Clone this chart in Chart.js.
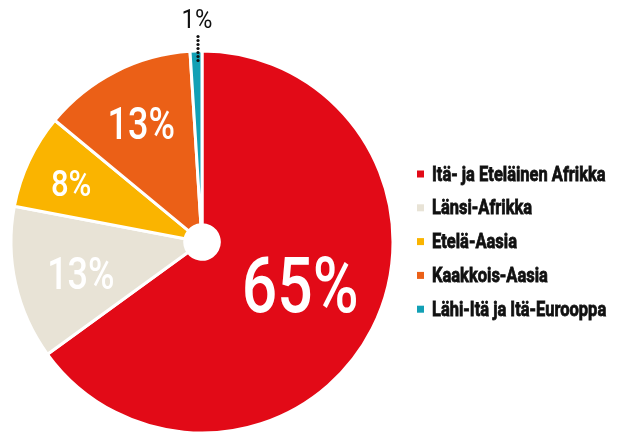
<!DOCTYPE html>
<html>
<head>
<meta charset="utf-8">
<script src="https://cdn.jsdelivr.net/npm/chart.js@4.4.1/dist/chart.umd.min.js"></script>
<style>
  html, body { margin: 0; padding: 0; background: #fff; }
  #wrap { width: 630px; height: 433px; }
</style>
</head>
<body>
<div id="wrap"><canvas id="chart" width="630" height="433"></canvas></div>
<script>
'use strict';

const regions = ['Itä- ja Eteläinen Afrikka', 'Länsi-Afrikka', 'Etelä-Aasia', 'Kaakkois-Aasia', 'Lähi-Itä ja Itä-Eurooppa'];
const shares = [65, 13, 8, 13, 1];
const shareLabels = ['65%', '13%', '8%', '13%', '1%'];
const sliceColors = ['#e20a17', '#e8e3d6', '#fab400', '#eb6017', '#12a0b5'];

// how each slice label sits (fraction of radius, nudges, font size)
const labelStyle = [
    { r: 0.56, dx: 3, dy: -6, size: 78, squeeze: 0.8, color: '#fff' },
    { r: 0.65, dx: 0, dy: 4, size: 45, squeeze: 0.8, color: '#fff' },
    { r: 0.757, dx: 0, dy: 2, size: 37, squeeze: 0.84, color: '#fff' },
    { r: 0.70, dx: 0, dy: 0, size: 45, squeeze: 0.8, color: '#fff' },
    { r: 1.17, dx: 2, dy: 0, size: 25, squeeze: 0.95, color: '#111', leader: true },
];

function drawSqueezed(ctx, text, x, y, squeeze, stroke) {
    ctx.save();
    ctx.translate(x, y);
    ctx.scale(squeeze, 1);
    ctx.fillText(text, 0, 0);
    if (stroke) {
        ctx.lineWidth = stroke;
        ctx.strokeStyle = ctx.fillStyle;
        ctx.strokeText(text, 0, 0);
    }
    ctx.restore();
}

const sliceLabels = {
    id: 'sliceLabels',
    afterDatasetsDraw(chart) {
        const ctx = chart.ctx;
        const meta = chart.getDatasetMeta(0);
        meta.data.forEach(function (arc, i) {
            const p = arc.getProps(['x', 'y', 'startAngle', 'endAngle', 'outerRadius']);
            const mid = (p.startAngle + p.endAngle) / 2;
            const st = labelStyle[i];
            const lx = p.x + Math.cos(mid) * p.outerRadius * st.r + st.dx;
            const ly = p.y + Math.sin(mid) * p.outerRadius * st.r + st.dy;
            ctx.save();
            ctx.fillStyle = st.color;
            ctx.font = (st.leader ? '400 ' : '500 ') + st.size + 'px Roboto';
            ctx.textAlign = 'center';
            ctx.textBaseline = 'alphabetic';
            drawSqueezed(ctx, shareLabels[i], lx, ly + st.size * 0.355, st.squeeze, 0);
            if (st.leader) {
                // dotted leader from the label down into the thin slice
                const x0 = p.x + Math.cos(mid) * p.outerRadius + st.dx;
                const yTop = ly + st.size * 0.355 + 9;
                const yEnd = p.y + Math.sin(mid) * p.outerRadius * 0.93;
                ctx.fillStyle = '#111';
                for (let y = yTop; y <= yEnd; y += 4) {
                    ctx.beginPath();
                    ctx.arc(x0, y, 1.6, 0, Math.PI * 2);
                    ctx.fill();
                }
            }
            ctx.restore();
        });
    }
};

const sideLegend = {
    id: 'sideLegend',
    afterDraw(chart) {
        const ctx = chart.ctx;
        const colors = chart.data.datasets[0].backgroundColor;
        ctx.save();
        ctx.font = '700 21px Roboto';
        ctx.textAlign = 'left';
        ctx.textBaseline = 'alphabetic';
        chart.data.labels.forEach(function (label, i) {
            const base = 180.5 + i * 33.8;
            ctx.fillStyle = colors[i];
            ctx.fillRect(417, base - 10, 7, 7);
            ctx.fillStyle = '#111';
            drawSqueezed(ctx, label, 432, base, 0.785, 0.8);
        });
        ctx.restore();
    }
};

const config = {
    type: 'pie',
    data: {
        labels: regions,
        datasets: [
            {
                data: shares,
                backgroundColor: sliceColors,
                borderColor: '#ffffff',
                borderWidth: 3,
                hoverOffset: 0,
            },
        ]
    },
    options: {
        responsive: false,
        animation: false,
        cutout: 17,
        radius: 191,
        layout: {
            padding: { left: 13, right: 239, top: 52, bottom: 1 }
        },
        plugins: {
            legend: { display: false },
            tooltip: { enabled: false },
        },
    },
    plugins: [sliceLabels, sideLegend],
};

const pieChart = new Chart(document.getElementById('chart'), config);
</script>
</body>
</html>
